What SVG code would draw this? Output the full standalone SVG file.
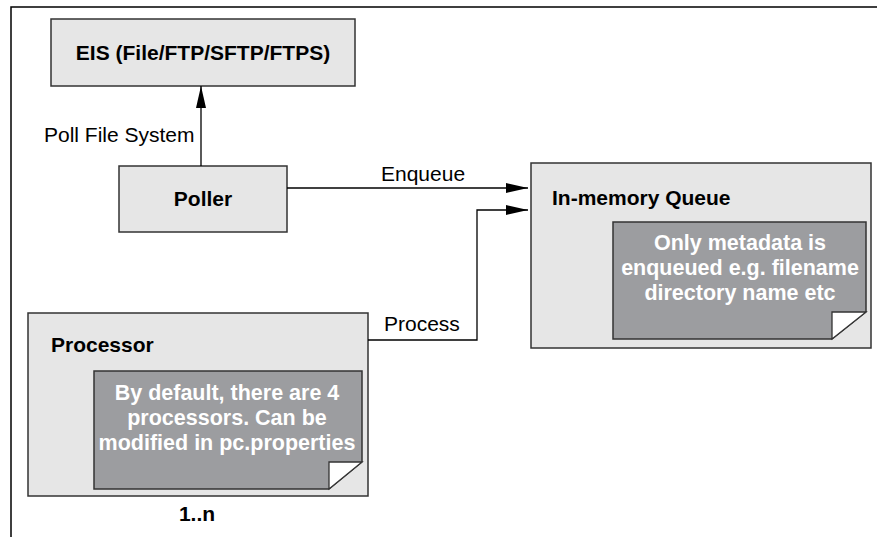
<svg xmlns="http://www.w3.org/2000/svg" width="877" height="537" viewBox="0 0 877 537">
<style>
.box{fill:#e6e6e6;stroke:#333;stroke-width:1.5}
.note{fill:#9c9da0;stroke:#333;stroke-width:1.5}
.fold{fill:#fff;stroke:#333;stroke-width:1.3}
.t{font-family:"Liberation Sans",Arial,sans-serif;font-size:21px;fill:#000}
.b{font-weight:bold}
.nt{font-family:"Liberation Sans",Arial,sans-serif;font-size:21.5px;font-weight:bold;fill:#fff;text-anchor:middle}
.c{fill:none;stroke:#000;stroke-width:1.3}
</style>
<defs>
<marker id="ah" markerUnits="userSpaceOnUse" markerWidth="22" markerHeight="10" refX="22" refY="5" orient="auto">
<path d="M0,0 L22,5 L0,10 z" fill="#000"/>
</marker>
</defs>
<path d="M11,537 V7 H877" fill="none" stroke="#000" stroke-width="1.5"/>
<g id="eis">
<rect class="box" x="51" y="19" width="304" height="67"/>
<text class="t b" x="203" y="60" text-anchor="middle">EIS (File/FTP/SFTP/FTPS)</text>
</g>
<g id="poller">
<rect class="box" x="119" y="166" width="168" height="66"/>
<text class="t b" x="203" y="206" text-anchor="middle">Poller</text>
</g>
<g id="queue">
<rect class="box" x="531" y="163" width="340" height="185"/>
<text class="t b" x="552" y="205">In-memory Queue</text>
<path class="note" d="M613,222 H866 V312 L832,339 H613 Z"/>
<path class="fold" d="M832,312 H866 L832,339 Z"/>
<text class="nt" x="740" y="250">Only metadata is</text>
<text class="nt" x="740" y="275">enqueued e.g. filename</text>
<text class="nt" x="740" y="300">directory name etc</text>
</g>
<g id="processor">
<rect class="box" x="28" y="313" width="340" height="183"/>
<text class="t b" x="51" y="352">Processor</text>
<path class="note" d="M94,371 H362 V462 L329,489 H94 Z"/>
<path class="fold" d="M329,462 H362 L329,489 Z"/>
<text class="nt" x="227" y="400">By default, there are 4</text>
<text class="nt" x="227" y="425">processors. Can be</text>
<text class="nt" x="227" y="450">modified in pc.properties</text>
<text class="t b" x="197" y="521" text-anchor="middle">1..n</text>
</g>
<g id="connectors">
<path class="c" d="M201,166 V86" marker-end="url(#ah)"/>
<text class="t" x="44" y="142">Poll File System</text>
<path class="c" d="M287,188 H528" marker-end="url(#ah)"/>
<text class="t" x="381" y="181">Enqueue</text>
<path class="c" d="M368,340 H477 V210 H528" marker-end="url(#ah)"/>
<text class="t" x="384" y="331">Process</text>
</g>
</svg>
